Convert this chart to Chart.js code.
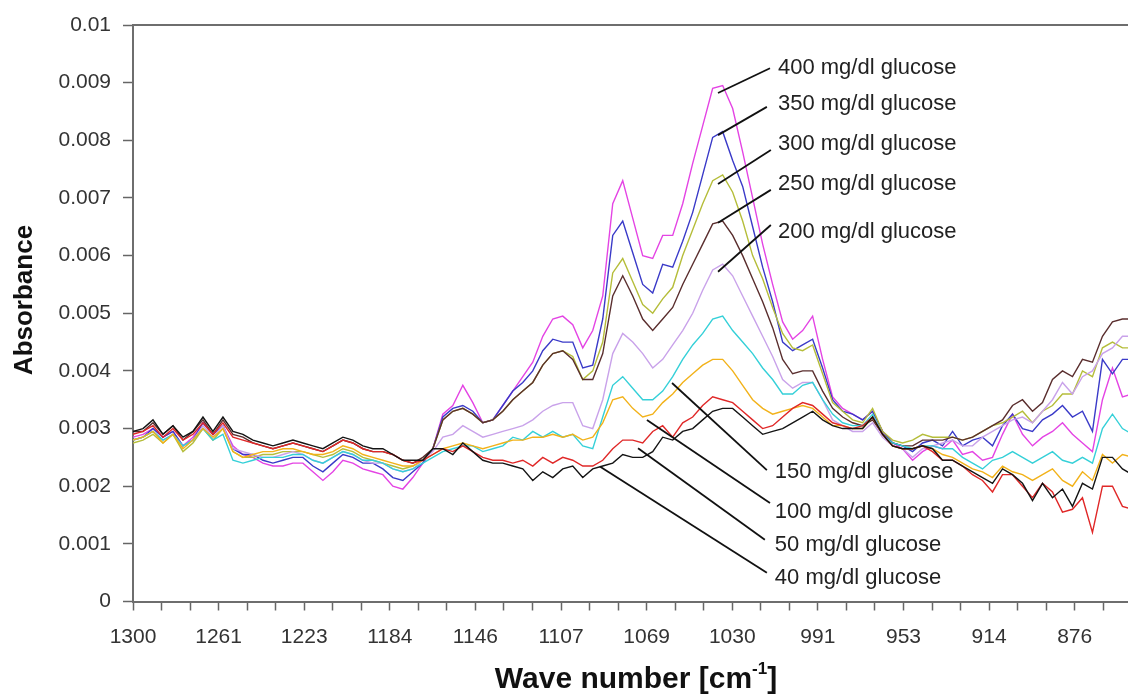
<!DOCTYPE html>
<html><head><meta charset="utf-8">
<script src="https://cdn.jsdelivr.net/npm/chart.js@4.4.1/dist/chart.umd.min.js"></script>
<style>html,body{margin:0;padding:0;background:#fff;}canvas{display:block;}</style>
</head><body>
<canvas id="c" width="1128" height="696"></canvas>
<script>
// ---------- DATA ----------
const waveNumbers = [1300,1295.5,1291,1286.5,1282,1277.5,1273,1268.5,1264,1259.5,1255,1250.5,1246,1241.5,1237,1232.5,1228,1223.5,1219,1214.5,1210,1205.5,1201,1196.5,1192,1187.5,1183,1178.5,1174,1169.5,1165,1160.5,1156,1151.5,1147,1142.5,1138,1133.5,1129,1124.5,1120,1115.5,1111,1106.5,1102,1097.5,1093,1088.5,1084,1079.5,1075,1070.5,1066,1061.5,1057,1052.5,1048,1043.5,1039,1034.5,1030,1025.5,1021,1016.5,1012,1007.5,1003,998.5,994,989.5,985,980.5,976,971.5,967,962.5,958,953.5,949,944.5,940,935.5,931,926.5,922,917.5,913,908.5,904,899.5,895,890.5,886,881.5,877,872.5,868,863.5,859,854.5,850];

const glucose40 = [0.00295,0.0030,0.00315,0.0029,0.00305,0.00285,0.00295,0.0032,0.00295,0.0032,
0.00295,0.0029,0.0028,0.00275,0.0027,0.00275,0.0028,0.00275,0.0027,0.00265,
0.00275,0.00285,0.0028,0.0027,0.00265,0.00265,0.00255,0.00245,0.00245,0.00245,
0.00265,0.00265,0.00255,0.00275,0.0026,0.00245,0.0024,0.0024,0.00235,0.0023,
0.0021,0.00225,0.00215,0.0023,0.00235,0.00215,0.0023,0.00235,0.0024,0.00255,
0.0025,0.0025,0.0026,0.00285,0.0028,0.00295,0.0030,0.00315,0.0033,0.00335,
0.00335,0.0032,0.00305,0.0029,0.00295,0.0030,0.0031,0.0032,0.0033,0.00315,
0.00305,0.0030,0.0030,0.0030,0.0032,0.0029,0.0027,0.00265,0.00265,0.0027,
0.00265,0.00245,0.00245,0.00235,0.00225,0.00215,0.00205,0.0023,0.0022,0.00205,
0.00175,0.00205,0.0018,0.00195,0.00165,0.00205,0.00195,0.0025,0.0025,0.0023,0.0022];

const glucose50 = [0.0029,0.00295,0.00305,0.00285,0.0030,0.0028,0.0029,0.0031,0.0029,0.0031,
0.00285,0.0028,0.00275,0.0027,0.00265,0.0027,0.00275,0.0027,0.00265,0.0026,
0.0027,0.0028,0.00275,0.00265,0.0026,0.0026,0.00255,0.00245,0.0024,0.00245,
0.00255,0.00265,0.0026,0.0027,0.0026,0.0025,0.00245,0.00245,0.0024,0.00245,
0.00235,0.0025,0.0024,0.0025,0.00245,0.00235,0.00235,0.00245,0.00265,0.0028,
0.0028,0.00275,0.00295,0.00305,0.00285,0.0031,0.0032,0.0034,0.00355,0.0035,
0.00345,0.0033,0.00315,0.0030,0.00305,0.0032,0.00335,0.00345,0.0034,0.00325,
0.0031,0.00305,0.0030,0.00305,0.0032,0.0029,0.0027,0.00265,0.00265,0.0027,
0.0026,0.00245,0.00245,0.00235,0.0022,0.0021,0.0019,0.0022,0.0022,0.0020,
0.0018,0.00205,0.0019,0.00155,0.0016,0.0018,0.0012,0.0020,0.0020,0.00165,0.0016];

const glucose100 = [0.0028,0.00285,0.00295,0.00275,0.0029,0.00265,0.0028,0.0030,0.00285,0.0030,
0.0026,0.0025,0.00255,0.0026,0.0026,0.00265,0.00265,0.0026,0.00255,0.00255,
0.0026,0.0027,0.00265,0.00255,0.0025,0.00245,0.0024,0.00235,0.00235,0.00245,
0.00255,0.00265,0.0027,0.00275,0.0027,0.00265,0.0027,0.00275,0.0028,0.0028,
0.00285,0.00285,0.0029,0.00285,0.0029,0.0028,0.00285,0.0031,0.0035,0.00355,
0.00335,0.0032,0.00325,0.00345,0.0036,0.0038,0.00395,0.0041,0.0042,0.0042,
0.0040,0.00375,0.0035,0.00335,0.00325,0.0033,0.00335,0.0034,0.00335,0.0032,
0.00305,0.00305,0.0030,0.0030,0.0032,0.0029,0.0027,0.00265,0.00265,0.0027,
0.00265,0.00255,0.0025,0.0024,0.0023,0.00225,0.00215,0.00235,0.00225,0.0022,
0.0021,0.0022,0.0023,0.0021,0.0020,0.00225,0.0021,0.00255,0.0024,0.00255,0.0025];

const glucose150 = [0.0028,0.00285,0.00295,0.0028,0.0029,0.0027,0.0028,0.0030,0.0028,0.0029,
0.00245,0.0024,0.00245,0.0025,0.0025,0.0025,0.00255,0.00255,0.00245,0.0024,
0.0025,0.0026,0.00255,0.00245,0.00245,0.0024,0.0023,0.00225,0.0023,0.0024,
0.0025,0.0026,0.00265,0.0027,0.0027,0.0026,0.00265,0.0027,0.00285,0.0028,
0.00295,0.00285,0.00295,0.00285,0.0029,0.0027,0.00265,0.0032,0.00375,0.0039,
0.0037,0.0035,0.0035,0.00365,0.0039,0.0042,0.00445,0.00465,0.0049,0.00495,
0.0047,0.0045,0.0043,0.00405,0.00385,0.0036,0.0036,0.00375,0.0038,0.0035,
0.00325,0.0031,0.00305,0.00305,0.00325,0.0029,0.00275,0.0027,0.00265,0.0027,
0.0027,0.00265,0.00265,0.0025,0.0024,0.0023,0.00245,0.0025,0.0026,0.0025,
0.0024,0.0025,0.0026,0.00245,0.0024,0.0025,0.0024,0.0030,0.00325,0.0030,0.0029];

const glucose200 = [0.0028,0.00285,0.00295,0.0028,0.0029,0.0027,0.0028,0.00305,0.00285,0.00305,
0.00265,0.0026,0.00255,0.0025,0.0025,0.00255,0.0026,0.00255,0.00245,0.0024,
0.0025,0.0026,0.00255,0.00245,0.0024,0.0024,0.0023,0.00225,0.0023,0.00245,
0.0026,0.00285,0.0029,0.00305,0.00295,0.00285,0.0029,0.00295,0.0030,0.00305,
0.00315,0.0033,0.0034,0.00345,0.00345,0.00305,0.0030,0.0035,0.0043,0.00465,
0.0045,0.0043,0.00405,0.0042,0.00445,0.0047,0.0050,0.0054,0.00575,0.00585,
0.00565,0.0053,0.00495,0.0046,0.00425,0.00385,0.0037,0.0038,0.0038,0.0035,
0.00315,0.00305,0.00295,0.00295,0.0031,0.00285,0.0027,0.00265,0.0025,0.00265,
0.0027,0.00275,0.0028,0.0027,0.0027,0.00285,0.00295,0.00305,0.00315,0.0032,
0.0031,0.0033,0.0035,0.0038,0.0036,0.0039,0.0040,0.0043,0.0044,0.0046,0.0046];

const glucose250 = [0.00295,0.00295,0.0031,0.0029,0.00305,0.0028,0.00295,0.00315,0.0029,0.00315,
0.0029,0.00285,0.00275,0.0027,0.00265,0.0027,0.00275,0.0027,0.00265,0.0026,
0.0027,0.0028,0.00275,0.00265,0.0026,0.0026,0.00255,0.00245,0.0024,0.0025,
0.00265,0.00315,0.0033,0.00335,0.00325,0.0031,0.00315,0.0033,0.0035,0.00365,
0.0038,0.0041,0.0043,0.00435,0.0042,0.00385,0.00385,0.0043,0.0053,0.00565,
0.0053,0.0049,0.0047,0.0049,0.0051,0.0055,0.00585,0.0062,0.00655,0.0066,
0.00635,0.0060,0.0056,0.0052,0.00475,0.0042,0.00395,0.0040,0.0040,0.00365,
0.00335,0.0032,0.0031,0.00305,0.00315,0.0029,0.00275,0.0027,0.0027,0.0028,
0.0028,0.0028,0.00285,0.0028,0.00285,0.00295,0.00305,0.00315,0.0034,0.0035,
0.0033,0.00345,0.00385,0.0040,0.0039,0.0042,0.00415,0.0046,0.00485,0.0049,0.0049];

const glucose300 = [0.00275,0.0028,0.0029,0.00275,0.0029,0.0026,0.00275,0.0030,0.0028,0.0030,
0.0026,0.0025,0.0025,0.00255,0.00255,0.0026,0.0026,0.0026,0.00255,0.0025,
0.00255,0.00265,0.0026,0.0025,0.00245,0.0024,0.00235,0.0023,0.00235,0.00245,
0.00265,0.00315,0.0033,0.00335,0.00325,0.0031,0.00315,0.0033,0.0035,0.00365,
0.0038,0.0041,0.0043,0.00435,0.00425,0.00385,0.0040,0.0045,0.0057,0.00595,
0.00555,0.00515,0.0050,0.00525,0.00545,0.0060,0.00645,0.0069,0.0073,0.0074,
0.0071,0.0066,0.0060,0.0056,0.0051,0.00465,0.0044,0.00435,0.00445,0.00395,
0.00345,0.0033,0.00315,0.0031,0.00335,0.00295,0.0028,0.00275,0.0028,0.0029,
0.00285,0.00285,0.00285,0.0028,0.00285,0.00295,0.00305,0.0031,0.0032,0.0033,
0.0031,0.0033,0.0034,0.0036,0.0036,0.0040,0.0039,0.0044,0.0045,0.0044,0.0044];

const glucose350 = [0.0028,0.00285,0.0030,0.00285,0.00295,0.0027,0.0028,0.0031,0.0029,0.00305,
0.00265,0.00255,0.00255,0.00245,0.0024,0.00245,0.0025,0.0025,0.00235,0.00225,
0.0024,0.00255,0.0025,0.0024,0.0024,0.0023,0.00215,0.0021,0.00225,0.0024,
0.00265,0.0032,0.00335,0.0034,0.0033,0.0031,0.00315,0.0034,0.00365,0.0038,
0.0040,0.00435,0.00455,0.0045,0.0045,0.00405,0.0041,0.0049,0.00635,0.0066,
0.00605,0.0055,0.00535,0.00585,0.0058,0.00625,0.00675,0.0074,0.00805,0.00815,
0.00765,0.0072,0.0065,0.0058,0.0052,0.0045,0.00435,0.00445,0.00455,0.00405,
0.0035,0.0033,0.00325,0.00315,0.0033,0.00295,0.00275,0.0027,0.0026,0.00275,
0.0028,0.0027,0.00295,0.0027,0.0028,0.00285,0.0027,0.00305,0.00325,0.0030,
0.00295,0.00315,0.00325,0.0034,0.0032,0.0033,0.00295,0.0042,0.00395,0.0042,0.0042];

const glucose400 = [0.00285,0.0029,0.0030,0.00285,0.00295,0.0027,0.00285,0.0031,0.0029,0.00305,
0.0027,0.00255,0.0025,0.0024,0.00235,0.00235,0.0024,0.0024,0.00225,0.0021,
0.00225,0.00245,0.0024,0.0023,0.00225,0.0022,0.0020,0.00195,0.00215,0.0024,
0.00265,0.00325,0.0034,0.00375,0.00345,0.0031,0.00315,0.0034,0.00365,0.0039,
0.00415,0.0046,0.0049,0.00495,0.0048,0.0044,0.0047,0.0053,0.0069,0.0073,
0.00665,0.0060,0.00595,0.00635,0.00635,0.0069,0.0076,0.00825,0.0089,0.00895,
0.00855,0.0078,0.0070,0.0062,0.0055,0.00485,0.00455,0.0047,0.00495,0.0042,
0.00355,0.00335,0.00325,0.00315,0.0033,0.00295,0.00275,0.00265,0.00245,0.0026,
0.0027,0.00265,0.0028,0.00255,0.0026,0.00245,0.0025,0.0029,0.00325,0.0029,
0.0027,0.00285,0.00295,0.0031,0.0029,0.00275,0.0026,0.0035,0.00405,0.00355,0.0036];

const seriesLabels = ['40 mg/dl glucose','50 mg/dl glucose','100 mg/dl glucose','150 mg/dl glucose','200 mg/dl glucose','250 mg/dl glucose','300 mg/dl glucose','350 mg/dl glucose','400 mg/dl glucose'];
const seriesValues = [glucose40, glucose50, glucose100, glucose150, glucose200, glucose250, glucose300, glucose350, glucose400];
const seriesColors = ['#141414','#e02828','#f2b21a','#35d0d8','#c9a2ea','#5a2e2e','#b5bd3a','#3a3ac8','#e444e4'];

// call-out labels: anchor on the curve, end of leader line, text position (data coordinates)
const annLabels = ['400 mg/dl glucose','350 mg/dl glucose','300 mg/dl glucose','250 mg/dl glucose','200 mg/dl glucose','150 mg/dl glucose','100 mg/dl glucose','50 mg/dl glucose','40 mg/dl glucose'];
const annPointX = [1036.6,1036.6,1036.6,1036.6,1036.6,1057.3,1068.6,1072.6,1089.8];
const annPointY = [0.00882,0.00809,0.00724,0.00657,0.00572,0.00379,0.00315,0.00266,0.00234];
const annEndX   = [1013.2,1014.6,1012.8,1012.8,1012.8,1014.6,1013.2,1015.5,1014.6];
const annEndY   = [0.00925,0.00858,0.00783,0.00714,0.00653,0.00228,0.00171,0.00107,0.00050];
const annTextX  = [1009.6,1009.6,1009.6,1009.6,1009.6,1011,1011,1011,1011];
const annTextY  = [0.00925,0.00863,0.00794,0.00724,0.00641,0.00225,0.00155,0.00098,0.00041];

const xTickLabels = ['1300','1261','1223','1184','1146','1107','1069','1030','991','953','914','876'];
const xMax = 1300, xMin = 852;
const yMin = 0, yMax = 0.01, yStep = 0.001;

// ---------- CHART ----------
const FONT = '"Liberation Sans", Arial, Helvetica, sans-serif';
const labelStep = (xMax - 876) / 11; // spacing between labelled ticks
const minorPerLabel = 3;

const datasets = seriesValues.map((vals, s) => ({
  label: seriesLabels[s],
  data: vals.map((v, i) => ({x: waveNumbers[i], y: v})),
  borderColor: seriesColors[s],
  borderWidth: 1.4,
  pointRadius: 0,
  tension: 0,
  fill: false
}));

const overlay = {
  id: 'overlay',
  afterDraw(chart) {
    const {ctx, chartArea: a, scales: {x, y}} = chart;
    ctx.save();
    // top frame line
    ctx.strokeStyle = '#6e6e6e'; ctx.lineWidth = 2;
    ctx.beginPath(); ctx.moveTo(a.left, a.top); ctx.lineTo(a.right, a.top); ctx.stroke();
    // call-outs
    ctx.strokeStyle = '#111'; ctx.lineWidth = 1.8;
    ctx.font = '22px ' + FONT; ctx.fillStyle = '#222';
    ctx.textAlign = 'left'; ctx.textBaseline = 'middle';
    for (let i = 0; i < annLabels.length; i++) {
      ctx.beginPath();
      ctx.moveTo(x.getPixelForValue(annPointX[i]), y.getPixelForValue(annPointY[i]));
      ctx.lineTo(x.getPixelForValue(annEndX[i]), y.getPixelForValue(annEndY[i]));
      ctx.stroke();
      ctx.fillText(annLabels[i], x.getPixelForValue(annTextX[i]), y.getPixelForValue(annTextY[i]));
    }
    // y title
    ctx.fillStyle = '#111';
    ctx.font = 'bold 26px ' + FONT;
    ctx.save();
    ctx.translate(25, 300);
    ctx.rotate(-Math.PI / 2);
    ctx.textAlign = 'center'; ctx.textBaseline = 'middle';
    ctx.fillText('Absorbance', 0, 0);
    ctx.restore();
    // x title with superscript
    const main = 'Wave number [cm', sup = '-1', end = ']';
    const fMain = 'bold 30px ' + FONT, fSup = 'bold 17px ' + FONT;
    ctx.font = fMain; const wMain = ctx.measureText(main).width, wEnd = ctx.measureText(end).width;
    ctx.font = fSup; const wSup = ctx.measureText(sup).width;
    let cx = 636 - (wMain + wSup + wEnd) / 2;
    const base = 688;
    ctx.textAlign = 'left'; ctx.textBaseline = 'alphabetic';
    ctx.font = fMain; ctx.fillText(main, cx, base); cx += wMain;
    ctx.font = fSup; ctx.fillText(sup, cx, base - 14); cx += wSup;
    ctx.font = fMain; ctx.fillText(end, cx, base);
    ctx.restore();
  }
};

new Chart(document.getElementById('c'), {
  type: 'line',
  data: {datasets},
  plugins: [overlay],
  options: {
    responsive: false,
    animation: false,
    devicePixelRatio: 1,
    layout: {padding: {top: 25, left: 0, right: 0, bottom: 0}},
    plugins: {legend: {display: false}, tooltip: {enabled: false}},
    scales: {
      x: {
        type: 'linear', reverse: true, min: xMin, max: xMax,
        afterBuildTicks(scale) {
          const t = [];
          const n = Math.floor((xMax - xMin) / (labelStep / minorPerLabel));
          for (let k = 0; k <= n; k++) t.push({value: xMax - k * labelStep / minorPerLabel});
          scale.ticks = t;
        },
        afterFit(scale) { scale.height = 94.5; },
        ticks: {
          autoSkip: false, maxRotation: 0, padding: 14,
          color: '#333', font: {family: FONT, size: 21},
          callback: (v, i) => (i % minorPerLabel === 0 ? (xTickLabels[i / minorPerLabel] || '') : '')
        },
        grid: {display: true, drawOnChartArea: false, drawTicks: true, tickLength: 9, tickColor: '#666', tickWidth: 1.5},
        border: {display: true, color: '#6e6e6e', width: 2}
      },
      y: {
        min: yMin, max: yMax,
        afterFit(scale) { scale.width = 133; },
        ticks: {
          stepSize: yStep, padding: 12, color: '#333', font: {family: FONT, size: 21},
          callback: v => (Math.abs(v) < 1e-12 ? '0' : String(parseFloat(v.toFixed(3))))
        },
        grid: {display: true, drawOnChartArea: false, drawTicks: true, tickLength: 10, tickColor: '#666', tickWidth: 1.5},
        border: {display: true, color: '#6e6e6e', width: 2}
      }
    }
  }
});
</script>
</body></html>
